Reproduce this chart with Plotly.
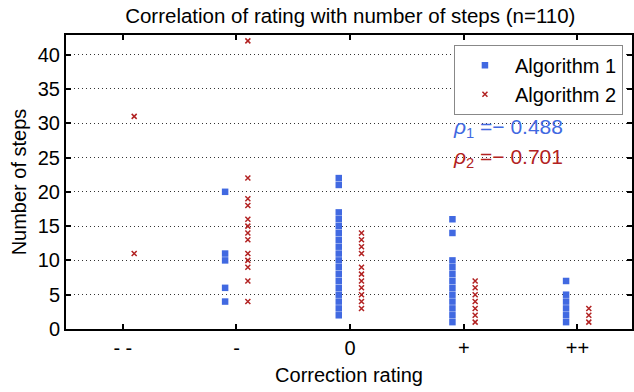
import plotly.graph_objects as go

categories = ["- -", "-", "0", "+", "++"]

# Number of steps per rating category
alg1_steps = {
    "- -": [],
    "-": [20, 11, 10, 6, 4],
    "0": [22, 21, 17, 16, 15, 14, 13, 12, 11, 10, 9, 8, 7, 6, 5, 4, 3, 2],
    "+": [16, 14, 10, 9, 8, 7, 6, 5, 4, 3, 2, 1],
    "++": [7, 5, 4, 3, 2, 1],
}
alg2_steps = {
    "- -": [31, 11],
    "-": [42, 22, 19, 18, 16, 15, 14, 13, 11, 10, 9, 7, 4],
    "0": [14, 13, 12, 11, 9, 8, 7, 6, 5, 4, 3],
    "+": [7, 6, 5, 4, 3, 2, 1],
    "++": [3, 2, 1],
}
rho1 = -0.488
rho2 = -0.701
n_total = 110

BLUE = "#4169E1"
RED = "#B22222"
FONT = "Liberation Sans, Arial, sans-serif"


def build(data, offset):
    xs, ys = [], []
    for i, c in enumerate(categories):
        for v in data[c]:
            xs.append(i + 1 + offset)
            ys.append(v)
    return xs, ys


x1, y1 = build(alg1_steps, -0.1)
x2, y2 = build(alg2_steps, 0.1)

fig = go.Figure()
fig.add_trace(go.Scatter(
    x=x1, y=y1, mode="markers", name="Algorithm 1",
    marker=dict(symbol="square", size=6.5, color=BLUE, line=dict(width=0)),
))
fig.add_trace(go.Scatter(
    x=x2, y=y2, mode="markers", name="Algorithm 2",
    marker=dict(symbol="x-thin", size=5, color=RED, line=dict(width=1.5, color=RED)),
))

fig.update_layout(
    width=634, height=392,
    margin=dict(l=66, r=0, t=35, b=63),
    paper_bgcolor="white", plot_bgcolor="white",
    font=dict(family=FONT, size=20, color="black"),
    title=dict(text=f"Correlation of rating with number of steps (n={n_total})",
               x=0.5525, xanchor="center", y=0.96, yanchor="middle",
               font=dict(size=20.5)),
    showlegend=True,
    legend=dict(x=0.984, xanchor="right", y=0.967, yanchor="top",
                bordercolor="#888888", borderwidth=1, bgcolor="white",
                font=dict(size=20), itemwidth=50, tracegroupgap=0),
)

fig.update_xaxes(
    range=[0.5, 5.48],
    tickmode="array", tickvals=list(range(1, len(categories) + 1)),
    ticktext=categories,
    ticks="inside", ticklen=5, tickwidth=2, tickcolor="black",
    showline=True, linecolor="black", linewidth=2, mirror="ticks",
    showgrid=False, zeroline=False,
    tickfont=dict(size=20),
    title=dict(text="Correction rating", font=dict(size=20), standoff=10),
)
fig.update_yaxes(
    range=[0, 42.86],
    tickmode="array", tickvals=[0, 5, 10, 15, 20, 25, 30, 35, 40],
    ticks="inside", ticklen=5, tickwidth=2, tickcolor="black",
    showline=True, linecolor="black", linewidth=2, mirror="ticks",
    showgrid=True, gridcolor="#333333", griddash="1px,3px", gridwidth=1,
    zeroline=False,
    tickfont=dict(size=20),
    title=dict(text="Number of steps", font=dict(size=20), standoff=6),
)

fig.add_annotation(
    xref="paper", yref="paper", x=0.681, y=0.684, xanchor="left", yanchor="middle",
    text=f"<i>ρ</i><sub>1</sub> =− {abs(rho1):.3f}", showarrow=False,
    font=dict(size=21, color=BLUE),
)
fig.add_annotation(
    xref="paper", yref="paper", x=0.681, y=0.582, xanchor="left", yanchor="middle",
    text=f"<i>ρ</i><sub>2</sub> =− {abs(rho2):.3f}", showarrow=False,
    font=dict(size=21, color=RED),
)

fig.write_html("out.html")
